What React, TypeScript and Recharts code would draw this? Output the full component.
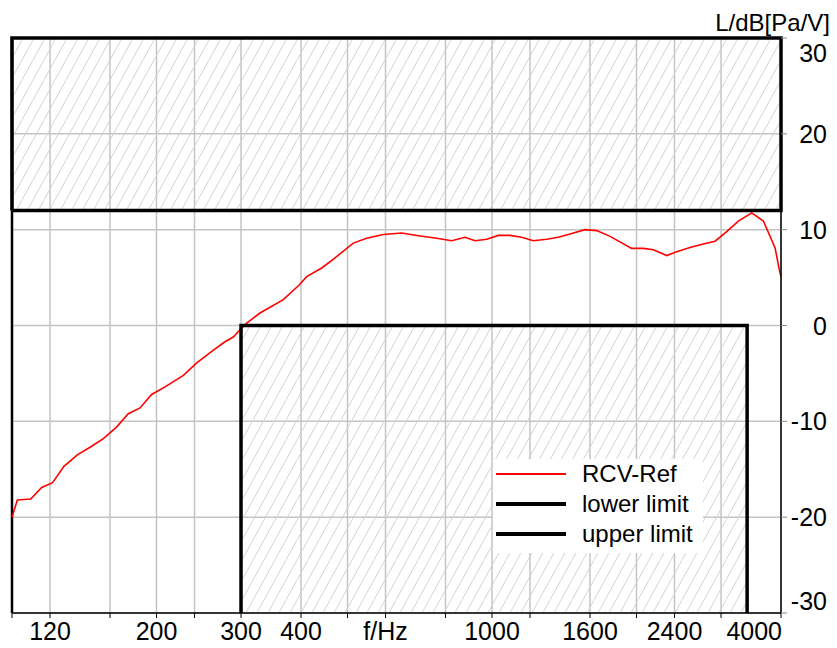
import React from 'react';
import {
  LineChart,
  Line,
  XAxis,
  YAxis,
  CartesianGrid,
  ReferenceArea,
  ReferenceLine,
  Legend,
} from 'recharts';

const rcvFreq = [
  100, 102.6, 109.4, 115.3, 121.5, 128.3, 136.8, 145.4, 155, 165.1, 174.7, 184.8,
  195.4, 208.4, 227.5, 242.6, 260.7, 277.8, 289.1, 298.5, 308.3, 328.6, 367.5, 397,
  411.1, 441.8, 466.7, 514, 548, 593.5, 648.5, 696.8, 767, 824.5, 878, 921.8, 975,
  1031, 1090, 1153, 1219, 1300, 1374, 1466, 1562, 1652, 1762, 1954, 2066, 2168, 2312,
  2426, 2585, 2755, 2915, 3083, 3260, 3476, 3676, 3888, 3968, 4000,
];
const rcvLevel = [
  -20.0, -18.2, -18.1, -16.9, -16.4, -14.7, -13.5, -12.7, -11.8, -10.6, -9.2, -8.6,
  -7.2, -6.4, -5.2, -3.9, -2.7, -1.7, -1.2, -0.45, 0.25, 1.3, 2.7, 4.25,
  5.1, 6.0, 6.9, 8.6, 9.1, 9.5, 9.65, 9.4, 9.1, 8.85, 9.2, 8.85, 9.0,
  9.4, 9.4, 9.2, 8.85, 9.0, 9.2, 9.6, 10.0, 9.9, 9.3, 8.05, 8.05, 7.9, 7.3,
  7.7, 8.15, 8.5, 8.8, 9.8, 10.9, 11.75, 10.9, 8.1, 5.8, 5.1,
];

// tolerance mask corners
const lowerFreq = [300, 300, 3400, 3400];
const lowerLevel = [-30, 0, 0, -30];
const upperFreq = [100, 100, 4000, 4000, 100];
const upperLevel = [12, 30, 30, 12, 12];

const xTicks = [100, 120, 160, 200, 240, 300, 400, 500, 600, 800, 1000, 1200, 1600, 2000, 2400, 3000, 4000];
const xLabels: Record<number, string> = {
  120: '120',
  200: '200',
  300: '300',
  400: '400',
  600: 'f/Hz',
  1000: '1000',
  1600: '1600',
  2400: '2400',
  4000: '4000',
};
const yTicks = [-30, -20, -10, 0, 10, 20, 30];

const toPoints = (fs: number[], vs: number[]) => fs.map((f, i) => ({ f, v: vs[i] }));
const rcv = toPoints(rcvFreq, rcvLevel);
const lower = toPoints(lowerFreq, lowerLevel);
const upper = toPoints(upperFreq, upperLevel);

const FONT = '"Liberation Sans", Arial, sans-serif';

function XTick(props: any) {
  const { x, y, payload } = props;
  const label = xLabels[payload.value];
  if (!label) return null;
  const isEnd = payload.value === 4000;
  return (
    <text
      x={isEnd ? x + 1 : x}
      y={y}
      dy={20}
      textAnchor={isEnd ? 'end' : 'middle'}
      fontFamily={FONT}
      fontSize={25}
      fill="#000"
    >
      {label}
    </text>
  );
}

function YTick(props: any) {
  const { x, y, payload } = props;
  let yy = y;
  if (payload.value === 30) yy += 15;
  if (payload.value === -30) yy -= 12;
  return (
    <text x={x + 38} y={yy} dy="0.36em" textAnchor="end" fontFamily={FONT} fontSize={25} fill="#000">
      {payload.value}
    </text>
  );
}

function LegendBox(props: any) {
  const items = props.payload ?? [];
  return (
    <div style={{ background: '#fff', width: 210, paddingBottom: 4 }}>
      {items.map((it: any) => (
        <div key={it.value} style={{ display: 'flex', alignItems: 'center', height: 30 }}>
          <div
            style={{
              marginLeft: 3,
              width: 70,
              height: it.color === '#ff0000' ? 2 : 4,
              background: it.color,
            }}
          />
          <span style={{ marginLeft: 16, fontFamily: FONT, fontSize: 24, color: '#000', lineHeight: '30px' }}>
            {it.value}
          </span>
        </div>
      ))}
    </div>
  );
}

export default function App() {
  return (
    <div style={{ position: 'absolute', left: 0, top: 0 }}>
      <LineChart width={837} height={648} margin={{ top: 38, right: 0, bottom: 0, left: 12 }}>
        <defs>
          <pattern id="hatch" patternUnits="userSpaceOnUse" width="11" height="20">
            <line x1="0" y1="20" x2="11" y2="0" stroke="#d2d2d2" strokeWidth="1" />
          </pattern>
        </defs>
        <CartesianGrid stroke="#c4c4c4" strokeWidth={1.5} />
        <XAxis
          dataKey="f"
          type="number"
          scale="log"
          domain={[100, 4000]}
          ticks={xTicks}
          interval={0}
          height={35}
          tickSize={5}
          tick={<XTick />}
          axisLine={{ stroke: '#000', strokeWidth: 1.5 }}
          tickLine={{ stroke: '#000' }}
        />
        <YAxis
          orientation="right"
          type="number"
          domain={[-30, 30]}
          ticks={yTicks}
          interval={0}
          width={56}
          tickSize={6}
          tick={<YTick />}
          axisLine={{ stroke: '#000', strokeWidth: 1.5 }}
          tickLine={{ stroke: '#888' }}
          label={{
            content: () => (
              <text x={830} y={31} textAnchor="end" fontFamily={FONT} fontSize={24} fill="#000">
                L/dB[Pa/V]
              </text>
            ),
          }}
        />
        <ReferenceArea x1={100} x2={4000} y1={12} y2={30} fill="url(#hatch)" fillOpacity={1} stroke="none" />
        <ReferenceArea x1={300} x2={3400} y1={-30} y2={0} fill="url(#hatch)" fillOpacity={1} stroke="none" />
        <ReferenceLine x={100} stroke="#000" strokeWidth={2.5} />
        <Line
          data={rcv}
          dataKey="v"
          name="RCV-Ref"
          type="linear"
          stroke="#ff0000"
          strokeWidth={1.6}
          dot={false}
          activeDot={false}
          isAnimationActive={false}
        />
        <Line
          data={lower}
          dataKey="v"
          name="lower limit"
          type="linear"
          stroke="#000000"
          strokeWidth={3.5}
          dot={false}
          activeDot={false}
          isAnimationActive={false}
        />
        <Line
          data={upper}
          dataKey="v"
          name="upper limit"
          type="linear"
          stroke="#000000"
          strokeWidth={3.5}
          dot={false}
          activeDot={false}
          isAnimationActive={false}
        />
        <Legend
          layout="vertical"
          align="center"
          verticalAlign="middle"
          content={<LegendBox />}
          wrapperStyle={{ left: 493, top: 459, width: 210 }}
        />
      </LineChart>
    </div>
  );
}
